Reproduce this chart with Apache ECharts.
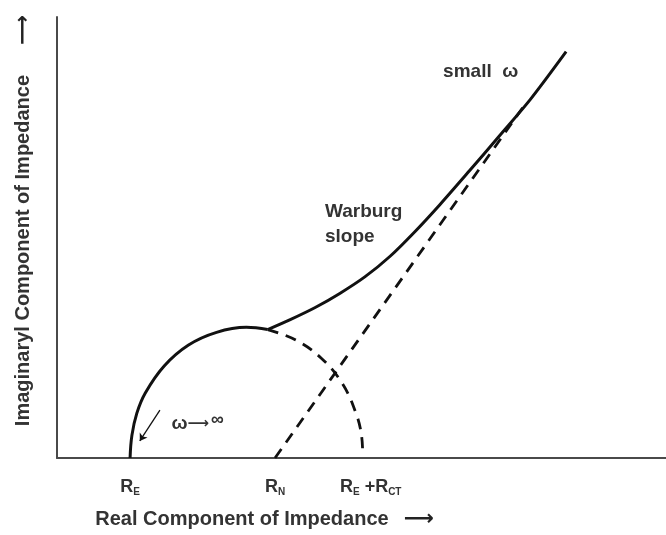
<!DOCTYPE html>
<html>
<head>
<meta charset="utf-8">
<style>
  html, body { margin: 0; padding: 0; background: #fff; }
  #chart { width: 666px; height: 535px; }
</style>
<script src="https://cdn.jsdelivr.net/npm/echarts@6/dist/echarts.min.js"></script>
</head>
<body>
<div id="chart"></div>
<script>
// Nyquist plot: charge-transfer semicircle followed by a Warburg diffusion tail.
// Units are arbitrary (schematic); real part on x, imaginary part on y.

// High-frequency semicircle, drawn part (from R_E up to where the Warburg tail departs)
const arcSolid = [[1.20, 0], [1.23, 0.41], [1.31, 0.81], [1.45, 1.18], [1.76, 1.67],
                  [2.16, 2.05], [2.62, 2.28], [3.11, 2.37], [3.46, 2.33]];
// Hypothetical continuation of the semicircle down to R_E + R_CT
const arcDashed = [[3.46, 2.33], [3.92, 2.14], [4.34, 1.81], [4.68, 1.36],
                   [4.91, 0.81], [5.00, 0.41], [5.02, 0.04]];
// Pure Warburg asymptote, extrapolated to the real axis at R_N
const warburgAsymptote = [[3.58, 0], [7.72, 6.47]];
// Measured low-frequency branch
const warburgCurve = [[3.46, 2.33], [3.83, 2.51], [4.24, 2.73], [4.65, 2.99], [5.06, 3.29],
                      [5.47, 3.66], [5.88, 4.11], [6.29, 4.60], [6.78, 5.22], [7.27, 5.85],
                      [7.77, 6.50], [8.36, 7.37]];

// Real-axis landmarks
const tickValues = [1.2, 3.58, 5.02];
const tickLabels = ['{r|R}{s|E}', '{r|R}{s|N}', '{sp|}{r|R}{s|E}{r| +R}{s|CT}'];

// Annotation anchors (data units)
const freqArrow = [[1.69, 0.87], [1.36, 0.31]];
const highFreqText = [1.88, 0.62];
const warburgText = [4.40, 4.24];
const lowFreqText = [6.34, 7.01];

const FONT = "'Liberation Sans', Arial, Helvetica, sans-serif";
const INK = '#111';
const TEXT = '#333';
const AXIS = '#4a4a4a';

const chart = echarts.init(document.getElementById('chart'), null, { renderer: 'canvas' });

const textPoint = (coord, formatter, rich) => ({
  coord,
  symbol: 'circle',
  symbolSize: 0,
  label: { show: true, position: 'right', distance: 0, formatter, rich }
});

chart.setOption({
  animation: false,
  backgroundColor: '#fff',
  grid: { left: 57, right: 0, top: 17, bottom: 75 },
  xAxis: {
    type: 'value', min: 0, max: 10,
    axisLine: { show: true, lineStyle: { color: AXIS, width: 2 } },
    axisTick: { show: false },
    splitLine: { show: false },
    axisLabel: {
      customValues: tickValues,
      margin: 19,
      formatter: (v) => tickLabels[tickValues.indexOf(v)] || '',
      rich: {
        r: { fontFamily: FONT, fontWeight: 'bold', fontSize: 18, color: TEXT, lineHeight: 20 },
        s: { fontFamily: FONT, fontWeight: 'bold', fontSize: 10, color: TEXT, lineHeight: 12,
             verticalAlign: 'bottom', padding: [8, 0, 0, 0] },
        sp: { width: 16 }
      }
    },
    name: '{t|Real Component of Impedance}{g|}{a|⟶}',
    nameLocation: 'middle',
    nameGap: 51,
    nameTextStyle: {
      padding: [0, 194, 0, 0],
      rich: {
        t: { fontFamily: FONT, fontWeight: 'bold', fontSize: 20, color: TEXT },
        g: { width: 15 },
        a: { fontFamily: 'DejaVu Sans', fontWeight: 'bold', fontSize: 21, color: '#222' }
      }
    }
  },
  yAxis: {
    type: 'value', min: 0, max: 8,
    axisLine: { show: true, lineStyle: { color: AXIS, width: 2 } },
    axisTick: { show: false },
    axisLabel: { show: false },
    splitLine: { show: false },
    name: '{t|Imaginaryl Component of Impedance}{g|}{a|⟶}',
    nameLocation: 'middle',
    nameRotate: 90,
    nameGap: 23,
    nameTextStyle: {
      padding: [0, 0, 0, 34],
      rich: {
        t: { fontFamily: FONT, fontWeight: 'bold', fontSize: 20, color: TEXT },
        g: { width: 30 },
        a: { fontFamily: 'DejaVu Sans', fontWeight: 'bold', fontSize: 21, color: '#222' }
      }
    }
  },
  series: [
    {
      name: 'semicircle', type: 'line', data: arcSolid, smooth: 0.4,
      showSymbol: false, lineStyle: { color: INK, width: 3 }, z: 3,
      markLine: {
        silent: true, symbol: ['none', 'arrow'], symbolSize: 7,
        lineStyle: { color: INK, width: 1.3, type: 'solid' },
        label: { show: false },
        data: [[{ coord: freqArrow[0] }, { coord: freqArrow[1] }]]
      },
      markPoint: {
        silent: true,
        data: [
          textPoint(highFreqText, '{w|ω}{a|⟶}{i|∞}', {
            w: { fontFamily: FONT, fontWeight: 'bold', fontSize: 19, color: TEXT },
            a: { fontFamily: 'DejaVu Sans', fontSize: 15, color: TEXT },
            i: { fontFamily: FONT, fontWeight: 'bold', fontSize: 18, color: TEXT, padding: [0, 0, 7, 2] }
          }),
          textPoint(warburgText, 'Warburg\nslope', null),
          textPoint(lowFreqText, 'small  ω', null)
        ],
        label: { fontFamily: FONT, fontWeight: 'bold', fontSize: 19, color: TEXT, lineHeight: 25 }
      }
    },
    {
      name: 'semicircle (extrapolated)', type: 'line', data: arcDashed, smooth: 0.4,
      showSymbol: false, lineStyle: { color: INK, width: 2.8, type: [11, 8] }, z: 2
    },
    {
      name: 'Warburg asymptote', type: 'line', data: warburgAsymptote,
      showSymbol: false, lineStyle: { color: INK, width: 2.8, type: [11, 8] }, z: 2
    },
    {
      name: 'Warburg', type: 'line', data: warburgCurve, smooth: 0.3,
      showSymbol: false, lineStyle: { color: INK, width: 3 }, z: 3
    }
  ]
});
</script>
</body>
</html>
